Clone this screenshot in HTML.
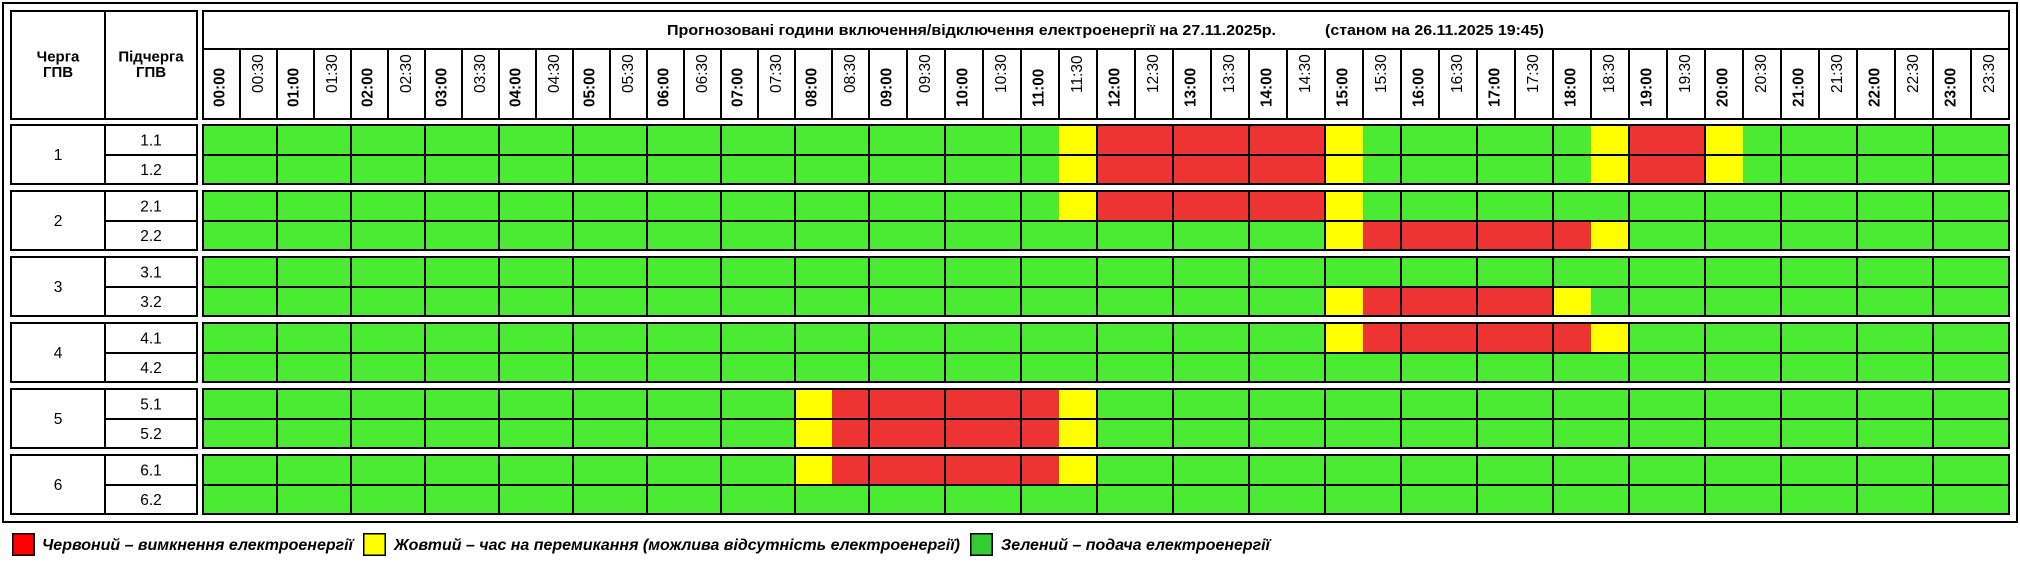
<!DOCTYPE html>
<html>
<head>
<meta charset="utf-8">
<style>
html,body{margin:0;padding:0;background:#fff;}
svg{display:block;}
text{font-family:"Liberation Sans","DejaVu Sans",sans-serif;fill:#000;}
.b{font-weight:bold;}
.hl{font-weight:bold;font-size:15.3px;}
.nl{font-size:15.5px;}
.rl{font-size:15.5px;}
.lg{font-weight:bold;font-style:italic;font-size:16px;}
</style>
</head>
<body>
<svg width="2020" height="570" viewBox="0 0 2020 570" xmlns="http://www.w3.org/2000/svg">
<rect x="0" y="0" width="2020" height="570" fill="#fff"/>
<defs>
  <g id="gf">
    <rect x="10" y="0" width="188" height="2"/>
    <rect x="10" y="59" width="188" height="2"/>
    <rect x="10" y="0" width="2" height="61"/>
    <rect x="104" y="0" width="2" height="61"/>
    <rect x="196" y="0" width="2" height="61"/>
    <rect x="104" y="30" width="94" height="2"/>
    <rect x="202" y="0" width="1808" height="2"/>
    <rect x="202" y="59" width="1808" height="2"/>
    <rect x="202" y="30" width="1808" height="2"/>
    <rect x="202" y="0" width="2" height="61"/>
    <rect x="2008" y="0" width="2" height="61"/>
    <path fill="none" stroke="#000" stroke-width="2" d="M277 0V61M351 0V61M425 0V61M499 0V61M573 0V61M647 0V61M721 0V61M795 0V61M869 0V61M945 0V61M1021 0V61M1097 0V61M1173 0V61M1249 0V61M1325 0V61M1401 0V61M1477 0V61M1553 0V61M1629 0V61M1705 0V61M1781 0V61M1857 0V61M1933 0V61"/>
  </g>
</defs>

<!-- outer frame -->
<rect x="2" y="2" width="2016" height="2"/>
<rect x="2" y="521" width="2016" height="2"/>
<rect x="2" y="2" width="2" height="521"/>
<rect x="2016" y="2" width="2" height="521"/>

<!-- header left block -->
<rect x="10" y="10" width="188" height="2"/>
<rect x="10" y="118" width="188" height="2"/>
<rect x="10" y="10" width="2" height="110"/>
<rect x="104" y="10" width="2" height="110"/>
<rect x="196" y="10" width="2" height="110"/>
<text class="b" font-size="15" x="58" y="61.5" text-anchor="middle">Черга</text>
<text class="b" font-size="15" x="58" y="77" text-anchor="middle">ГПВ</text>
<text class="b" font-size="15" x="151" y="61.5" text-anchor="middle">Підчерга</text>
<text class="b" font-size="15" x="151" y="77" text-anchor="middle">ГПВ</text>

<!-- header timeline -->
<rect x="202" y="10" width="1808" height="2"/>
<rect x="202" y="48" width="1808" height="2"/>
<rect x="202" y="118" width="1808" height="2"/>
<rect x="202" y="10" width="2" height="110"/>
<rect x="2008" y="10" width="2" height="110"/>
<path fill="none" stroke="#000" stroke-width="2" d="M240 48V120M277 48V120M314 48V120M351 48V120M388 48V120M425 48V120M462 48V120M499 48V120M536 48V120M573 48V120M610 48V120M647 48V120M684 48V120M721 48V120M758 48V120M795 48V120M832 48V120M869 48V120M907 48V120M945 48V120M983 48V120M1021 48V120M1059 48V120M1097 48V120M1135 48V120M1173 48V120M1211 48V120M1249 48V120M1287 48V120M1325 48V120M1363 48V120M1401 48V120M1439 48V120M1477 48V120M1515 48V120M1553 48V120M1591 48V120M1629 48V120M1667 48V120M1705 48V120M1743 48V120M1781 48V120M1819 48V120M1857 48V120M1895 48V120M1933 48V120M1971 48V120"/>

<text class="b" font-size="15" x="667" y="35" textLength="609" lengthAdjust="spacingAndGlyphs">Прогнозовані години включення/відключення електроенергії на 27.11.2025р.</text>
<text class="b" font-size="15" x="1325" y="35" textLength="219" lengthAdjust="spacingAndGlyphs">(станом на 26.11.2025 19:45)</text>

<!-- time labels -->
<text class="hl" transform="translate(224.5,107) rotate(-90)">00:00</text>
<text class="nl" transform="translate(263,93) rotate(-90)">00:30</text>
<text class="hl" transform="translate(298.5,107) rotate(-90)">01:00</text>
<text class="nl" transform="translate(337,93) rotate(-90)">01:30</text>
<text class="hl" transform="translate(372.5,107) rotate(-90)">02:00</text>
<text class="nl" transform="translate(411,93) rotate(-90)">02:30</text>
<text class="hl" transform="translate(446.5,107) rotate(-90)">03:00</text>
<text class="nl" transform="translate(485,93) rotate(-90)">03:30</text>
<text class="hl" transform="translate(520.5,107) rotate(-90)">04:00</text>
<text class="nl" transform="translate(559,93) rotate(-90)">04:30</text>
<text class="hl" transform="translate(594.5,107) rotate(-90)">05:00</text>
<text class="nl" transform="translate(633,93) rotate(-90)">05:30</text>
<text class="hl" transform="translate(668.5,107) rotate(-90)">06:00</text>
<text class="nl" transform="translate(707,93) rotate(-90)">06:30</text>
<text class="hl" transform="translate(742.5,107) rotate(-90)">07:00</text>
<text class="nl" transform="translate(781,93) rotate(-90)">07:30</text>
<text class="hl" transform="translate(816.5,107) rotate(-90)">08:00</text>
<text class="nl" transform="translate(855,93) rotate(-90)">08:30</text>
<text class="hl" transform="translate(891.5,107) rotate(-90)">09:00</text>
<text class="nl" transform="translate(930,93) rotate(-90)">09:30</text>
<text class="hl" transform="translate(967.5,107) rotate(-90)">10:00</text>
<text class="nl" transform="translate(1006,93) rotate(-90)">10:30</text>
<text class="hl" transform="translate(1043.5,107) rotate(-90)">11:00</text>
<text class="nl" transform="translate(1082,93) rotate(-90)">11:30</text>
<text class="hl" transform="translate(1119.5,107) rotate(-90)">12:00</text>
<text class="nl" transform="translate(1158,93) rotate(-90)">12:30</text>
<text class="hl" transform="translate(1195.5,107) rotate(-90)">13:00</text>
<text class="nl" transform="translate(1234,93) rotate(-90)">13:30</text>
<text class="hl" transform="translate(1271.5,107) rotate(-90)">14:00</text>
<text class="nl" transform="translate(1310,93) rotate(-90)">14:30</text>
<text class="hl" transform="translate(1347.5,107) rotate(-90)">15:00</text>
<text class="nl" transform="translate(1386,93) rotate(-90)">15:30</text>
<text class="hl" transform="translate(1423.5,107) rotate(-90)">16:00</text>
<text class="nl" transform="translate(1462,93) rotate(-90)">16:30</text>
<text class="hl" transform="translate(1499.5,107) rotate(-90)">17:00</text>
<text class="nl" transform="translate(1538,93) rotate(-90)">17:30</text>
<text class="hl" transform="translate(1575.5,107) rotate(-90)">18:00</text>
<text class="nl" transform="translate(1614,93) rotate(-90)">18:30</text>
<text class="hl" transform="translate(1651.5,107) rotate(-90)">19:00</text>
<text class="nl" transform="translate(1690,93) rotate(-90)">19:30</text>
<text class="hl" transform="translate(1727.5,107) rotate(-90)">20:00</text>
<text class="nl" transform="translate(1766,93) rotate(-90)">20:30</text>
<text class="hl" transform="translate(1803.5,107) rotate(-90)">21:00</text>
<text class="nl" transform="translate(1842,93) rotate(-90)">21:30</text>
<text class="hl" transform="translate(1879.5,107) rotate(-90)">22:00</text>
<text class="nl" transform="translate(1918,93) rotate(-90)">22:30</text>
<text class="hl" transform="translate(1955.5,107) rotate(-90)">23:00</text>
<text class="nl" transform="translate(1994,93) rotate(-90)">23:30</text>

<!-- Group 1 (y0=124) -->
<rect x="202" y="124" width="1808" height="61" fill="#4beb33"/>
<rect x="1059" y="124" width="37" height="61" fill="#ffff00"/>
<rect x="1096" y="124" width="228" height="61" fill="#ee3333"/>
<rect x="1324" y="124" width="39" height="61" fill="#ffff00"/>
<rect x="1591" y="124" width="37" height="61" fill="#ffff00"/>
<rect x="1628" y="124" width="76" height="61" fill="#ee3333"/>
<rect x="1704" y="124" width="39" height="61" fill="#ffff00"/>
<use href="#gf" x="0" y="124"/>
<text class="rl" x="58" y="160" text-anchor="middle">1</text>
<text class="rl" x="151" y="145.5" text-anchor="middle">1.1</text>
<text class="rl" x="151" y="175" text-anchor="middle">1.2</text>

<!-- Group 2 (y0=190) -->
<rect x="202" y="190" width="1808" height="61" fill="#4beb33"/>
<rect x="1059" y="190" width="37" height="31" fill="#ffff00"/>
<rect x="1096" y="190" width="228" height="31" fill="#ee3333"/>
<rect x="1324" y="190" width="39" height="31" fill="#ffff00"/>
<rect x="1324" y="221" width="39" height="30" fill="#ffff00"/>
<rect x="1363" y="221" width="228" height="30" fill="#ee3333"/>
<rect x="1591" y="221" width="37" height="30" fill="#ffff00"/>
<use href="#gf" x="0" y="190"/>
<text class="rl" x="58" y="226" text-anchor="middle">2</text>
<text class="rl" x="151" y="211.5" text-anchor="middle">2.1</text>
<text class="rl" x="151" y="241" text-anchor="middle">2.2</text>

<!-- Group 3 (y0=256) -->
<rect x="202" y="256" width="1808" height="61" fill="#4beb33"/>
<rect x="1324" y="287" width="39" height="30" fill="#ffff00"/>
<rect x="1363" y="287" width="189" height="30" fill="#ee3333"/>
<rect x="1552" y="287" width="39" height="30" fill="#ffff00"/>
<use href="#gf" x="0" y="256"/>
<text class="rl" x="58" y="292" text-anchor="middle">3</text>
<text class="rl" x="151" y="277.5" text-anchor="middle">3.1</text>
<text class="rl" x="151" y="307" text-anchor="middle">3.2</text>

<!-- Group 4 (y0=322) -->
<rect x="202" y="322" width="1808" height="61" fill="#4beb33"/>
<rect x="1324" y="322" width="39" height="31" fill="#ffff00"/>
<rect x="1363" y="322" width="228" height="31" fill="#ee3333"/>
<rect x="1591" y="322" width="37" height="31" fill="#ffff00"/>
<use href="#gf" x="0" y="322"/>
<text class="rl" x="58" y="358" text-anchor="middle">4</text>
<text class="rl" x="151" y="343.5" text-anchor="middle">4.1</text>
<text class="rl" x="151" y="373" text-anchor="middle">4.2</text>

<!-- Group 5 (y0=388) -->
<rect x="202" y="388" width="1808" height="61" fill="#4beb33"/>
<rect x="794" y="388" width="38" height="61" fill="#ffff00"/>
<rect x="832" y="388" width="227" height="61" fill="#ee3333"/>
<rect x="1059" y="388" width="37" height="61" fill="#ffff00"/>
<use href="#gf" x="0" y="388"/>
<text class="rl" x="58" y="424" text-anchor="middle">5</text>
<text class="rl" x="151" y="409.5" text-anchor="middle">5.1</text>
<text class="rl" x="151" y="439" text-anchor="middle">5.2</text>

<!-- Group 6 (y0=454) -->
<rect x="202" y="454" width="1808" height="61" fill="#4beb33"/>
<rect x="794" y="454" width="38" height="31" fill="#ffff00"/>
<rect x="832" y="454" width="227" height="31" fill="#ee3333"/>
<rect x="1059" y="454" width="37" height="31" fill="#ffff00"/>
<use href="#gf" x="0" y="454"/>
<text class="rl" x="58" y="490" text-anchor="middle">6</text>
<text class="rl" x="151" y="475.5" text-anchor="middle">6.1</text>
<text class="rl" x="151" y="505" text-anchor="middle">6.2</text>

<!-- Legend -->
<rect x="12.75" y="533.75" width="21.5" height="21.5" fill="#ff0000" stroke="#000" stroke-width="1.5"/>
<text class="lg" x="42" y="550" textLength="311" lengthAdjust="spacingAndGlyphs">Червоний – вимкнення електроенергії</text>
<rect x="363.75" y="533.75" width="21.5" height="21.5" fill="#ffff00" stroke="#000" stroke-width="1.5"/>
<text class="lg" x="394" y="550" textLength="566" lengthAdjust="spacingAndGlyphs">Жовтий – час на перемикання (можлива відсутність електроенергії)</text>
<rect x="970.75" y="533.75" width="21.5" height="21.5" fill="#33cc33" stroke="#000" stroke-width="1.5"/>
<text class="lg" x="1001" y="550" textLength="269" lengthAdjust="spacingAndGlyphs">Зелений – подача електроенергії</text>
</svg>
</body>
</html>
